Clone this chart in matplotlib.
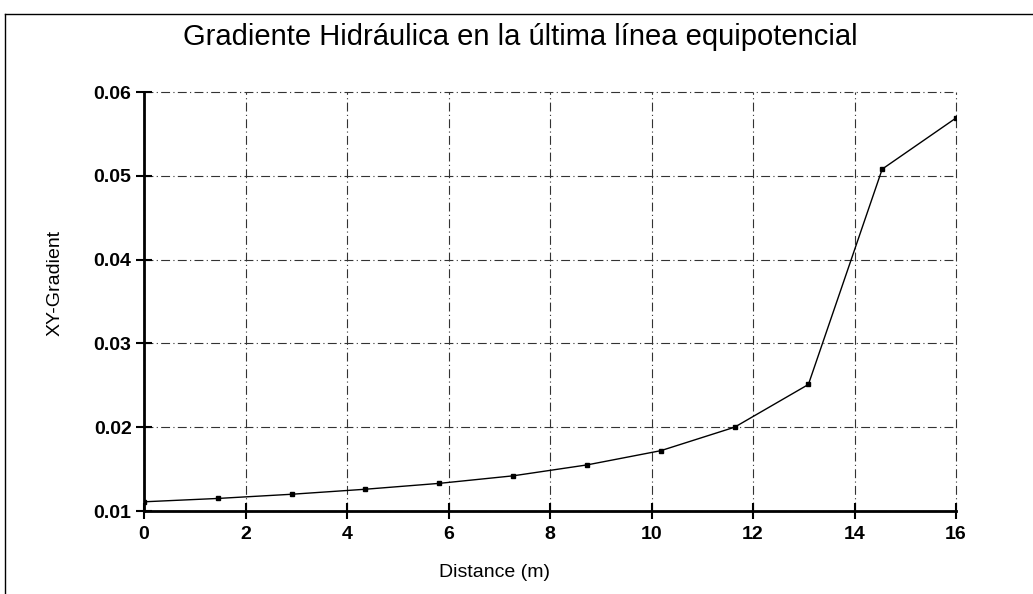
import matplotlib
matplotlib.use('Agg')
import matplotlib.pyplot as plt
from matplotlib.lines import Line2D

plt.rcParams['font.family'] = ['Liberation Sans', 'DejaVu Sans']

# distance along the last equipotential line (m) and XY gradient
distance = [0.0, 1.455, 2.909, 4.364, 5.818, 7.273, 8.727, 10.182, 11.636, 13.091, 14.545, 16.0]
gradient = [0.0111, 0.0115, 0.0120, 0.0126, 0.0133, 0.0142, 0.0155, 0.0172, 0.0200, 0.0251, 0.0508, 0.0569]

x_ticks = [0, 2, 4, 6, 8, 10, 12, 14, 16]
y_ticks = [0.01, 0.02, 0.03, 0.04, 0.05, 0.06]

fig = plt.figure(figsize=(10.33, 5.94), dpi=100)
ax = fig.add_axes([0.1394, 0.1397, 0.7861, 0.7054])

ax.plot(distance, gradient, color='black', linewidth=1.0, marker='s', markersize=3,
        markerfacecolor='black', markeredgecolor='black')

ax.set_xlim(0, 16)
ax.set_ylim(0.01, 0.06)
ax.set_xticks(x_ticks)
ax.set_yticks(y_ticks)
ax.set_xticklabels([str(t) for t in x_ticks], fontweight='bold')
ax.set_yticklabels(['%.2f' % t for t in y_ticks], fontweight='bold')

ax.grid(True, linestyle=(0, (8, 3, 1, 3)), color='#333333', linewidth=0.8)
for gl in ax.get_xgridlines() + ax.get_ygridlines():
    gl.set_clip_on(False)
for side in ['top', 'right']:
    ax.spines[side].set_visible(False)
for side in ['left', 'bottom']:
    ax.spines[side].set_linewidth(2.0)
ax.tick_params(direction='inout', length=12, width=1.5, labelsize=14)
ax.tick_params(axis='y', pad=3)
ax.tick_params(axis='x', pad=5)

ax.set_xlabel('Distance (m)', fontsize=14)
ax.set_ylabel('XY-Gradient', fontsize=14)
ax.xaxis.set_label_coords(0.432, -0.146)
ax.yaxis.set_label_coords(-0.110, 0.545)
ax.xaxis.label.set_va('center')
ax.yaxis.label.set_va('center')
fig.text(0.504, 0.937, 'Gradiente Hidráulica en la última línea equipotencial',
         ha='center', va='center', fontsize=21)

# outer frame
fig.add_artist(Line2D([0.005, 1.0], [0.977, 0.977], color='black', linewidth=1.0))
fig.add_artist(Line2D([0.005, 0.005], [0.0, 0.977], color='black', linewidth=1.0))

fig.savefig('out.png', dpi=100)
